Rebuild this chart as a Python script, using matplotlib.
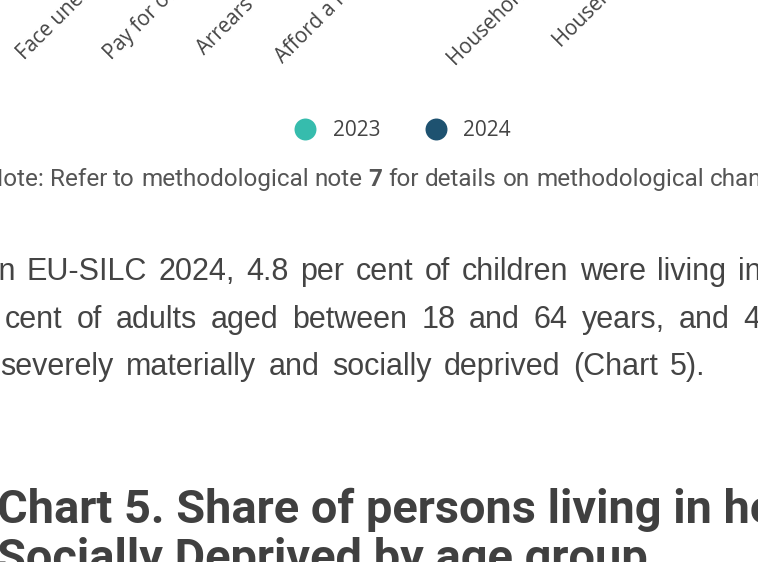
import matplotlib
matplotlib.use("Agg")
import matplotlib.pyplot as plt
from matplotlib.lines import Line2D

# ── Data ─────────────────────────────────────────────────────────────
CATEGORIES = [
    "Face unexpected financial expenses",
    "Pay for one week annual holiday away from home",
    "Arrears on mortgage, rent, utility bills or loans",
    "Afford a meal with meat, chicken or fish",
    "Keep home warm",
    "Household cannot replace worn-out furniture",
    "Household cannot afford a car",
]
YEARS = ["2023", "2024"]
YEAR_COLORS = ["#36bcad", "#1e5270"]

NOTE_TOKENS = [("Note:", "normal"), ("Refer", "normal"), ("to", "normal"),
               ("methodological", "normal"), ("note", "normal"), ("7", "bold"),
               ("for", "normal"), ("details", "normal"), ("on", "normal"),
               ("methodological", "normal"), ("changes.", "normal")]

BODY_LINES = [
    "In EU-SILC 2024, 4.8 per cent of children were living in severe material and social deprivation, compared to 3.9 per",
    "cent of adults aged between 18 and 64 years, and 4.1 per cent of persons aged 65 years and over, who were",
    "severely materially and socially deprived (Chart 5).",
]
HEADLINE = [
    "Chart 5. Share of persons living in households that are Severely Materially and",
    "Socially Deprived by age group",
]

# ── Layout (page pixels, y measured from the top) ────────────────────
W, H = 758, 562
AXIS_Y = -97                                    # category axis sits above the visible crop
LABEL_DROP = [157, 157, 152, 161, 60, 163, 145]  # how far each rotated label hangs below its tick
CAT_XLIM = (-181 / 87.5, (W - 181) / 87.5)
BODY_X = [-10, 5, 0]
BODY_Y = [280, 328, 375]
BODY_GAP = [1.35, 1.63, 1.47]                   # word gap as multiple of a normal space
TEXT_COLOR = "#444444"


def space_width(ax, renderer, **kw):
    a = ax.text(0, 0, "aa", **kw)
    b = ax.text(0, 0, "a a", **kw)
    w = b.get_window_extent(renderer).width - a.get_window_extent(renderer).width
    a.remove()
    b.remove()
    return w


def draw_words(ax, renderer, x, y, tokens, gap, **kw):
    for word, weight in tokens:
        t = ax.text(x, y, word, fontweight=weight, va="baseline", ha="left", **kw)
        x += t.get_window_extent(renderer).width + gap
    return x


fig = plt.figure(figsize=(W / 100, H / 100), dpi=100)
fig.patch.set_facecolor("white")
renderer = fig.canvas.get_renderer()

# category axis (only the lower ends of the rotated labels are visible)
cat_ax = fig.add_axes([0, 0, 1, 1])
cat_ax.set_xlim(*CAT_XLIM)
cat_ax.set_ylim(H, 0)
cat_ax.axis("off")
for i, (label, drop) in enumerate(zip(CATEGORIES, LABEL_DROP)):
    cat_ax.annotate(label, xy=(i, AXIS_Y), xytext=(-drop, -drop), textcoords="offset pixels",
                    rotation=45, rotation_mode="anchor", ha="left", va="baseline",
                    fontsize=14.8, family="Open Sans", color="#444444",
                    annotation_clip=False)

# page axis for the rest of the text
page = fig.add_axes([0, 0, 1, 1])
page.set_xlim(0, W)
page.set_ylim(H, 0)
page.axis("off")

handles = [Line2D([], [], marker="o", linestyle="none", markersize=15.8,
                  markerfacecolor=c, markeredgewidth=0) for c in YEAR_COLORS]
page.legend(handles, YEARS, loc="center", bbox_to_anchor=(403, 131),
            bbox_transform=page.transData, ncol=2, frameon=False,
            handlelength=1.0, handletextpad=0.8, columnspacing=2.2,
            prop={"family": "Open Sans", "size": 15}, labelcolor="#444444")

note_kw = dict(fontsize=17.5, family="Roboto", color="#555555")
draw_words(page, renderer, -14, 186, NOTE_TOKENS, space_width(page, renderer, **note_kw), **note_kw)

body_kw = dict(fontsize=22, family="Liberation Sans", color=TEXT_COLOR)
sp = space_width(page, renderer, **body_kw)
for x0, y0, g, line in zip(BODY_X, BODY_Y, BODY_GAP, BODY_LINES):
    draw_words(page, renderer, x0, y0, [(w, "normal") for w in line.split()], sp * g, **body_kw)

for k, line in enumerate(HEADLINE):
    page.text(-3, 523 + 49 * k, line, fontsize=33.8, family="Roboto", fontweight="bold",
              color="#404040", va="baseline", ha="left")

fig.savefig("out.png", dpi=100)
